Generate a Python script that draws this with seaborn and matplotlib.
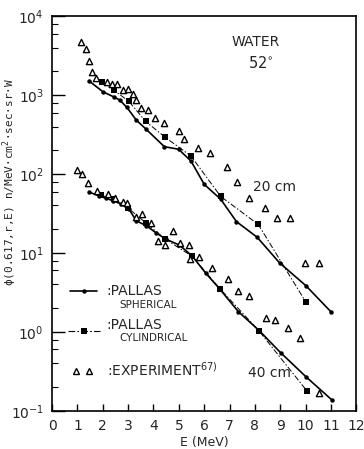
import matplotlib
matplotlib.use("Agg")
import matplotlib.pyplot as plt
import seaborn as sns
from matplotlib.ticker import LogLocator, NullFormatter, FixedLocator

# ---- data: neutron flux spectra in water at 52 degrees ----
# 20 cm depth
sph20_E = [1.45, 2.01, 2.43, 2.67, 2.95, 3.32, 3.70, 4.43, 4.99, 5.48, 6.00, 6.65, 7.27, 8.09, 8.97, 10.01, 10.99]
sph20_y = [1520, 1100, 950, 865, 700, 483, 372, 222, 206, 146, 74, 48, 25, 15.8, 7.5, 3.85, 1.81]

cyl20_E = [1.97, 2.43, 3.02, 3.69, 4.46, 5.48, 6.65, 8.13, 10.01]
cyl20_y = [1450, 1156, 839, 465, 292, 169, 52, 23, 2.38]

exp20_E = [1.15, 1.33, 1.45, 1.56, 1.75, 2.15, 2.37, 2.58, 2.80, 3.01, 3.19, 3.32, 3.49, 3.79,
           4.04, 4.40, 5.02, 5.22, 5.76, 6.24, 6.89, 7.31, 7.76, 8.39, 8.87, 9.40, 9.99, 10.51]
exp20_y = [4690, 3850, 2720, 1970, 1640, 1450, 1400, 1370, 1160, 1190, 1030, 865, 690, 645,
           516, 438, 353, 277, 212, 183, 124, 80, 50, 37, 28, 28, 7.5, 7.4]

# 40 cm depth
sph40_E = [1.46, 1.85, 2.14, 2.40, 2.70, 3.03, 3.32, 3.71, 4.10, 4.50, 5.02, 5.52, 6.07, 6.62,
           7.35, 8.18, 9.01, 10.03, 11.03]
sph40_y = [59, 53, 49, 46, 42, 36, 25.6, 22.2, 18, 14.9, 12.6, 9.2, 5.5, 3.47,
           1.8, 1.03, 0.547, 0.267, 0.138]

cyl40_E = [1.92, 2.43, 3.00, 3.69, 4.46, 5.52, 6.63, 8.15, 10.05]
cyl40_y = [54, 48, 37, 24.2, 15, 9.1, 3.5, 1.04, 0.179]

exp40_E = [0.98, 1.20, 1.43, 1.76, 2.21, 2.50, 2.80, 2.95, 3.30, 3.55, 3.91, 4.18, 4.46, 4.77,
           5.06, 5.41, 5.45, 5.79, 6.32, 6.92, 7.34, 7.78, 8.44, 8.80, 9.31, 9.79, 10.51]
exp40_y = [112, 101, 77, 61.5, 56, 50, 44, 43, 28.8, 31, 24.2, 14.2, 12.6, 18.8,
           13.5, 12.6, 8.3, 9, 6.4, 4.7, 3.3, 2.85, 1.52, 1.42, 1.11, 0.83, 0.168]

x_ticks = list(range(0, 13))

# ---- style ----
sns.set_style("ticks")
plt.rcParams["font.family"] = ["Liberation Sans Narrow", "DejaVu Sans"]
plt.rcParams["mathtext.fontset"] = "dejavusans"

fig = plt.figure(figsize=(3.64, 4.49), dpi=100)
ax = fig.add_axes([0.143, 0.085, 0.836, 0.879])

def spherical(E, y):
    sns.lineplot(x=E, y=y, ax=ax, color="black", linewidth=1.2, marker="o",
                 markersize=3.2, markeredgewidth=0, estimator=None, sort=False)

def cylindrical(E, y):
    sns.lineplot(x=E, y=y, ax=ax, color="black", linewidth=0.7, linestyle=(0, (6, 2, 1.5, 2)),
                 marker="s", markersize=4.5, markeredgewidth=0, estimator=None, sort=False)

def experiment(E, y):
    sns.scatterplot(x=E, y=y, ax=ax, marker="^", s=20, color="white",
                    edgecolor="black", linewidth=1.0, zorder=3)

for E, y in [(cyl20_E, cyl20_y), (cyl40_E, cyl40_y)]:
    cylindrical(E, y)
for E, y in [(sph20_E, sph20_y), (sph40_E, sph40_y)]:
    spherical(E, y)
for E, y in [(exp20_E, exp20_y), (exp40_E, exp40_y)]:
    experiment(E, y)

ax.set_yscale("log")
ax.set_xlim(0, 12)
ax.set_ylim(0.1, 1e4)
ax.xaxis.set_major_locator(FixedLocator(x_ticks))
ax.yaxis.set_major_locator(LogLocator(base=10, numticks=10))
ax.yaxis.set_minor_locator(LogLocator(base=10, subs=[2, 4, 6, 8], numticks=10))
ax.yaxis.set_minor_formatter(NullFormatter())

ax.tick_params(axis="x", which="major", direction="in", length=5, width=1.0,
               labelsize=10, pad=6, color="black")
ax.tick_params(axis="y", which="major", direction="in", length=9, width=1.0,
               labelsize=10, pad=6, color="black")
ax.tick_params(axis="y", which="minor", direction="in", length=4, width=0.8, color="black")
for sp in ax.spines.values():
    sp.set_visible(True)
    sp.set_linewidth(1.2)
    sp.set_color("black")

ax.set_xlabel("E (MeV)", fontsize=9)
ax.xaxis.set_label_coords(0.5, -0.065)
ax.set_ylabel(r"ϕ(0.617,r,E) n/MeV·cm$^2$·sec·sr·W", fontsize=8,
              family=["DejaVu Sans Mono", "DejaVu Sans"])
ax.yaxis.set_label_coords(-0.108, 0.58)

# annotations
ax.text(0.668, 0.934, "WATER", transform=ax.transAxes, ha="center", va="center", fontsize=10)
ax.text(0.687, 0.881, r"52$^{\circ}$", transform=ax.transAxes, ha="center", va="center", fontsize=10.5)
ax.text(0.73, 0.567, "20 cm", transform=ax.transAxes, ha="center", va="center", fontsize=10)
ax.text(0.713, 0.097, "40 cm", transform=ax.transAxes, ha="center", va="center", fontsize=10)

# legend keys
tr = ax.transAxes
ax.plot([0.059, 0.147], [0.304, 0.304], transform=tr, color="black", lw=1.2)
ax.plot([0.104], [0.304], transform=tr, color="black", marker="o", ms=3.2, mew=0)
ax.plot([0.052, 0.157], [0.203, 0.203], transform=tr, color="black", lw=0.8,
        linestyle=(0, (6, 2, 1.5, 2)))
ax.plot([0.104], [0.203], transform=tr, color="black", marker="s", ms=5, mew=0)
ax.plot([0.078, 0.120], [0.101, 0.101], transform=tr, color="black", marker="^", ms=4.8,
        mfc="white", mew=1.0, linestyle="none")

ax.text(0.179, 0.303, ":PALLAS", transform=tr, ha="left", va="center", fontsize=10)
ax.text(0.221, 0.268, "SPHERICAL", transform=tr, ha="left", va="center", fontsize=7.5)
ax.text(0.179, 0.218, ":PALLAS", transform=tr, ha="left", va="center", fontsize=10)
ax.text(0.221, 0.185, "CYLINDRICAL", transform=tr, ha="left", va="center", fontsize=7.5)
ax.text(0.179, 0.104, r":EXPERIMENT$^{67)}$", transform=tr, ha="left", va="center", fontsize=10)

fig.savefig("out.png", dpi=100)
